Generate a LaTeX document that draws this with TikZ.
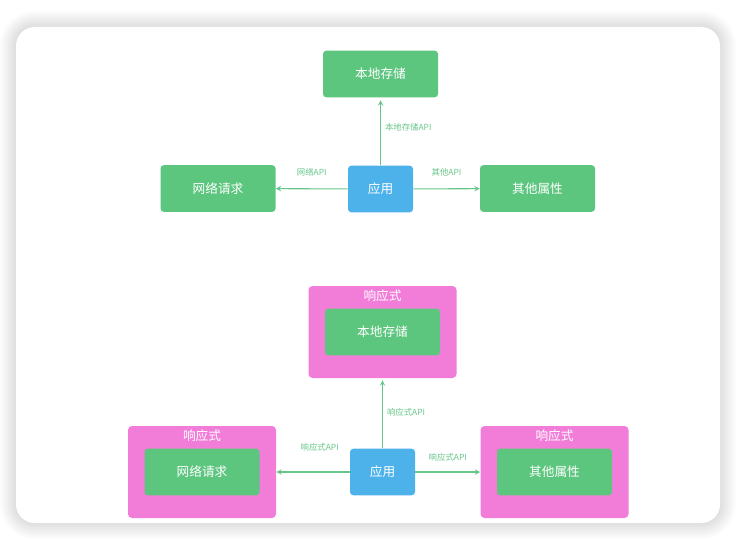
\documentclass[tikz,border=0pt]{standalone}
\usepackage{fontspec}
\newfontfamily\cjk{Noto Sans CJK SC}

\definecolor{boxgreen}{HTML}{5CC57E}
\definecolor{appblue}{HTML}{4DB2EA}
\definecolor{rpink}{HTML}{F27DD9}
\definecolor{linegreen}{HTML}{66C78A}

\tikzset{
 box/.style={fill=boxgreen, rounded corners=2.5pt, text=white,
   font=\cjk\fontsize{9.5}{11}\selectfont, inner sep=0pt,
   minimum width=86.25pt, minimum height=35pt},
 appbox/.style={box, fill=appblue, minimum width=48.75pt},
 reactbox/.style={fill=rpink, rounded corners=3pt, inner sep=0pt,
   minimum width=111pt, minimum height=69pt},
 rtitle/.style={text=white, font=\cjk\fontsize{9.5}{11}\selectfont, inner sep=0pt},
 link/.style={draw=linegreen, line width=0.8pt, -stealth},
 api/.style={text=linegreen, font=\cjk\fontsize{6.3}{7}\selectfont, inner sep=1pt},
}

\begin{document}
\begin{tikzpicture}[x=0.75pt, y=-0.75pt]
 \useasboundingbox (0,0) rectangle (741,538);
 \fill[white] (0,0) rectangle (741,538);
 % card with soft shadow
 \foreach \i in {1,...,16}
   \fill[black, opacity=0.009, rounded corners=14pt+0.75*\i pt]
     (16-\i,27-\i) rectangle (720+\i,523+\i);
 \fill[white, rounded corners=14pt] (16,27) rectangle (720,523);

 % plain
 \node[box] (store) at (380.5,74) {本地存储};
 \node[appbox] (app) at (380.5,189) {应用};
 \node[box] (net) at (218,188.5) {网络请求};
 \node[box] (other) at (537.5,188.5) {其他属性};

 \draw[link, shorten >=2pt] (app) -- node[api, midway, right=2pt, yshift=3pt] (storeapi) {本地存储API} (store);
 \draw[link] (app) -- node[api, midway, above=8pt] (netapi) {网络API} (net);
 \draw[link] (app) -- node[api, midway, above=8pt] (otherapi) {其他API} (other);

 % reactive
 \node[reactbox] (rstore) at (382.5,332) {};
 \node[box] (rstorein) at (rstore.center) {本地存储};
 \node[rtitle] (rstoretitle) at ([yshift=-7.5pt]rstore.north) {响应式};

 \node[reactbox] (rnet) at (202,472) {};
 \node[box] (rnetin) at (rnet.center) {网络请求};
 \node[rtitle] (rnettitle) at ([yshift=-7.5pt]rnet.north) {响应式};

 \node[reactbox] (rother) at (554.5,472) {};
 \node[box] (rotherin) at (rother.center) {其他属性};
 \node[rtitle] (rothertitle) at ([yshift=-7.5pt]rother.north) {响应式};

 \node[appbox] (rapp) at (382.5,472) {应用};

 \draw[link, shorten >=1.5pt] (rapp) -- node[api, midway, right=2pt, yshift=1pt] (rstoreapi) {响应式API} (rstore);
 \draw[link] (rapp) -- node[api, midway, above=14pt, xshift=5pt] (rnetapi) {响应式API} (rnet);
 \draw[link] (rapp) -- node[api, midway, above=7pt] (rotherapi) {响应式API} (rother);
\end{tikzpicture}
\end{document}
